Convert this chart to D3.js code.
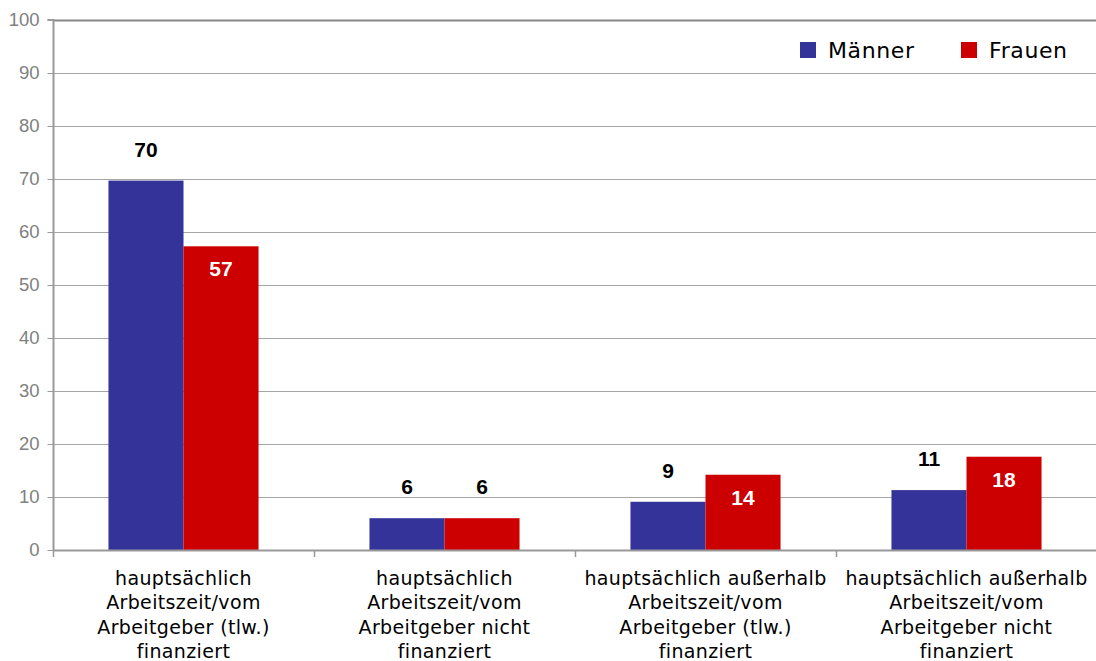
<!DOCTYPE html>
<html>
<head>
<meta charset="utf-8">
<script src="https://cdn.jsdelivr.net/npm/d3@7"></script>
<style>
  html, body { margin: 0; padding: 0; background: #fff; }
  svg { display: block; }
</style>
</head>
<body>
<svg id="chart" width="1096" height="661"></svg>
<script>
const categories = [
  ["hauptsächlich", "Arbeitszeit/vom", "Arbeitgeber (tlw.)", "finanziert"],
  ["hauptsächlich", "Arbeitszeit/vom", "Arbeitgeber nicht", "finanziert"],
  ["hauptsächlich außerhalb", "Arbeitszeit/vom", "Arbeitgeber (tlw.)", "finanziert"],
  ["hauptsächlich außerhalb", "Arbeitszeit/vom", "Arbeitgeber nicht", "finanziert"]
];
const seriesNames = ["Männer", "Frauen"];
const maennerValues = [69.7, 6.0, 9.1, 11.3];
const frauenValues = [57.3, 6.0, 14.2, 17.6];
const maennerLabels = ["70", "6", "9", "11"];
const frauenLabels = ["57", "6", "14", "18"];
const yTicks = [0, 10, 20, 30, 40, 50, 60, 70, 80, 90, 100];
const colors = ["#333399", "#CC0000"];

(function () {
const svg = d3.select("#chart");
const mLeft = 53, mRight = 1097, mTop = 20, mBottom = 550;

const x0 = d3.scaleBand().domain(d3.range(categories.length)).range([mLeft, mRight]).padding(0);
const bw = x0.bandwidth();
const x1 = d3.scaleBand().domain(seriesNames).range([bw * 0.2125, bw * 0.7875]).padding(0);
const y = d3.scaleLinear().domain([0, 100]).range([mBottom, mTop]);

// gridlines
svg.append("g").selectAll("line").data(yTicks).join("line")
  .attr("x1", mLeft).attr("x2", mRight)
  .attr("y1", d => y(d) + 0.5).attr("y2", d => y(d) + 0.5)
  .attr("stroke", d => d === 100 ? "#888" : "#a6a6a6").attr("stroke-width", d => d === 100 ? 2 : 1);

// y axis
const yAxis = d3.axisLeft(y).tickValues(yTicks).tickSize(6).tickPadding(6);
const gy = svg.append("g").attr("transform", `translate(${mLeft + 0.5},0)`).call(yAxis);
gy.select(".domain").attr("stroke", "#999").attr("stroke-width", 2).attr("d", `M-6,${mTop}H0V${mBottom}`);
gy.selectAll(".tick line").attr("stroke", "#999");
gy.selectAll(".tick text").attr("fill", "#808080").style("font-family", "Liberation Sans, Arial, sans-serif").style("font-size", "18.5px").attr("x", -14);

// bars
const data = categories.map((c, i) => ({ i, vals: [
  { s: seriesNames[0], v: maennerValues[i], lab: maennerLabels[i] },
  { s: seriesNames[1], v: frauenValues[i], lab: frauenLabels[i] }
]}));
const groups = svg.append("g").selectAll("g").data(data).join("g")
  .attr("transform", d => `translate(${x0(d.i)},0)`);
groups.selectAll("rect").data(d => d.vals).join("rect")
  .attr("x", d => x1(d.s)).attr("width", x1.bandwidth())
  .attr("y", d => y(d.v)).attr("height", d => y(0) - y(d.v))
  .attr("fill", (d, j) => colors[j]);

// value labels
const isInside = (d, j) => j === 1 && (y(0) - y(d.v)) > 40;
groups.selectAll("text.val").data(d => d.vals).join("text").attr("class", "val")
  .attr("x", d => x1(d.s) + x1.bandwidth() / 2)
  .attr("y", (d, j) => isInside(d, j) ? y(d.v) + 30 : y(d.v) - 24)
  .attr("text-anchor", "middle")
  .attr("fill", (d, j) => isInside(d, j) ? "#fff" : "#000")
  .style("font-family", "Liberation Sans, Arial, sans-serif")
  .style("font-weight", "bold").style("font-size", "21px")
  .text(d => d.lab);

// x axis
svg.append("line").attr("x1", mLeft).attr("x2", mRight).attr("y1", mBottom + 0.5).attr("y2", mBottom + 0.5)
  .attr("stroke", "#999").attr("stroke-width", 2);
const bounds = d3.range(categories.length + 1).map(i => i < categories.length ? x0(i) : x0(categories.length - 1) + bw);
svg.append("g").selectAll("line").data(bounds).join("line")
  .attr("x1", d => d + 0.5).attr("x2", d => d + 0.5).attr("y1", mBottom).attr("y2", mBottom + 7)
  .attr("stroke", "#999").attr("stroke-width", 1.5);

// category labels
const cl = svg.append("g").selectAll("text").data(categories.map((c, i) => ({ c, i }))).join("text")
  .attr("x", d => x0(d.i) + bw / 2)
  .attr("y", 585)
  .attr("text-anchor", "middle")
  .attr("fill", "#000")
  .style("font-family", "DejaVu Sans, Verdana, sans-serif")
  .style("font-size", "19px")
  .style("letter-spacing", "0.35px");
cl.selectAll("tspan").data(d => d.c.map((line, k) => ({ line, k, x: x0(d.i) + bw / 2 }))).join("tspan")
  .attr("x", d => d.x).attr("dy", d => d.k === 0 ? 0 : 24.3).text(d => d.line);

// legend
const legendX = [800, 961];
const lg = svg.append("g").selectAll("g").data(seriesNames).join("g")
  .attr("transform", (d, i) => `translate(${legendX[i]},42)`);
lg.append("rect").attr("width", 16).attr("height", 16).attr("fill", (d, i) => colors[i]);
lg.append("text").attr("x", 28).attr("y", 16)
  .style("font-family", "DejaVu Sans, Verdana, sans-serif").style("font-size", "22px")
  .style("letter-spacing", "0.6px")
  .attr("fill", "#000").text(d => d);
})();
</script>
</body>
</html>
